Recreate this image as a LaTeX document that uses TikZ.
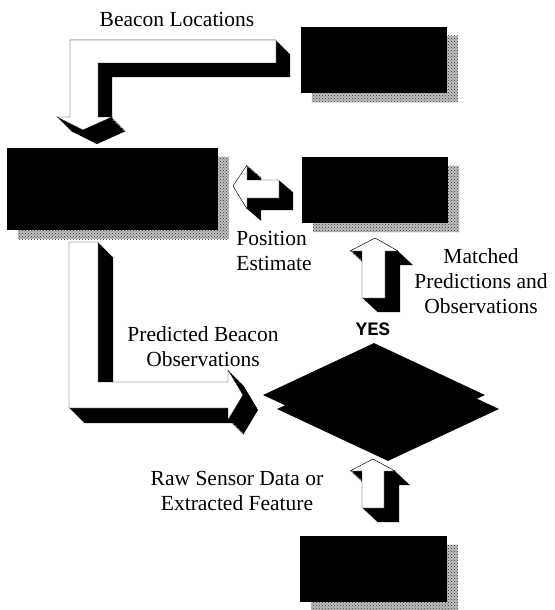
\documentclass[tikz,border=0pt]{standalone}
\usepackage{fontspec}
\setmainfont{Liberation Serif}
\setmonofont{Liberation Mono}
\usetikzlibrary{shapes.geometric,patterns,backgrounds}

% white face of a block arrow, pushed back along (#1,#2) in black
\newcommand{\solidarrow}[3]{%
    \foreach \k in {0,...,20}{\fill[black,shift={(#1*\k/20,#2*\k/20)}] #3 -- cycle;}
    \filldraw[fill=white,draw=black,thin] #3 -- cycle;
}

\tikzset{
    block/.style={fill=black,minimum width=146pt,minimum height=66pt,inner sep=0pt},
    dotshadow/.style={fill=black!25,postaction={pattern=crosshatch dots,pattern color=black!80}},
    rhomb/.style={shape=diamond,fill=black,minimum width=222pt,minimum height=104pt,inner sep=0pt},
    txt/.style={align=center,inner sep=0pt,font=\fontsize{21.5}{25}\selectfont},
    yes/.style={inner sep=0pt,font=\ttfamily\bfseries\fontsize{19}{22}\selectfont}
}

\begin{document}
\begin{tikzpicture}[x=1pt,y=-1pt]
    \useasboundingbox (0,0) rectangle (554,610);

    \node[block] (map) at (374,60) {};
    \node[block,minimum width=211pt,minimum height=82pt] (predict) at (112.5,189) {};
    \node[block] (estimate) at (375,190) {};
    \node[block,minimum width=147pt] (sensor) at (373.5,569) {};
    \begin{scope}[on background layer]
        \foreach \b in {map,predict,estimate,sensor}
            \fill[dotshadow] ([shift={(11,9)}]\b.north west) rectangle ([shift={(11,9)}]\b.south east);
    \end{scope}

    \node[rhomb] (matchb) at (388,409) {};
    \node[rhomb] (match) at (374,395) {};

    \solidarrow{14}{14}{(70,40) -- (276,40) -- (276,63) -- (98,63) -- (98,117) -- (112,117) -- (83,130) -- (57,117) -- (70,117)}
    \solidarrow{14}{12}{(233,186) -- (247,165) -- (247,180) -- (279,180) -- (279,198) -- (247,198) -- (247,209)}
    \solidarrow{15}{14}{(375,238) -- (398,251) -- (385,251) -- (385,298) -- (362,298) -- (362,251) -- (350,251)}
    \solidarrow{15}{15}{(69,242) -- (98,242) -- (98,382) -- (228,382) -- (228,370) -- (243,395) -- (228,420) -- (228,408) -- (69,408)}
    \solidarrow{15}{14}{(373,459) -- (395,471) -- (384,471) -- (384,508) -- (362,508) -- (362,471) -- (350,471)}

    \node[txt] (beacon) at (177,19) {Beacon Locations};
    \node[txt,align=left] (posest) at (274,251) {Position\\Estimate};
    \node[txt] (matched) at (481,281) {Matched\\Predictions and\\Observations};
    \node[yes] (yesl) at (373,329) {YES};
    \node[txt] (predobs) at (203,347) {Predicted Beacon\\Observations};
    \node[txt] (raw) at (237,491) {Raw Sensor Data or\\Extracted Feature};
\end{tikzpicture}
\end{document}
